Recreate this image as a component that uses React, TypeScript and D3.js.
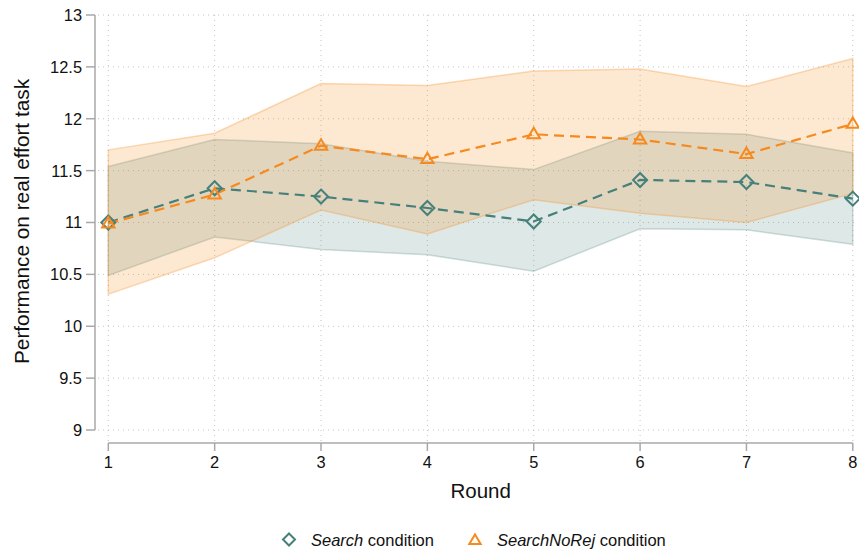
import React from 'react';
import * as d3 from 'd3';

const rounds = [1, 2, 3, 4, 5, 6, 7, 8];
const yTicks = [9, 9.5, 10, 10.5, 11, 11.5, 12, 12.5, 13];

const searchMean = [11.0, 11.33, 11.25, 11.14, 11.01, 11.41, 11.39, 11.23];
const searchHi = [11.54, 11.8, 11.76, 11.59, 11.51, 11.88, 11.85, 11.67];
const searchLo = [10.49, 10.86, 10.74, 10.69, 10.53, 10.94, 10.93, 10.79];

const noRejMean = [10.99, 11.27, 11.74, 11.61, 11.85, 11.8, 11.66, 11.95];
const noRejHi = [11.7, 11.86, 12.34, 12.32, 12.46, 12.48, 12.31, 12.58];
const noRejLo = [10.31, 10.66, 11.12, 10.89, 11.22, 11.09, 11.0, 11.28];

const TEAL = '#46807a';
const ORANGE = '#f68a1e';
const FONT = 'Liberation Sans, Arial, Helvetica, sans-serif';

const W = 859;
const H = 552;

const App = () => {
  const x = d3.scaleLinear().domain([1, 8]).range([108.3, 852.8]);
  const y = d3.scaleLinear().domain([9, 13]).range([430, 15]);

  const band = (lo: number[], hi: number[]) =>
    d3.area<number>()
      .x(d => x(rounds[d]))
      .y0(d => y(lo[d]))
      .y1(d => y(hi[d]))(d3.range(rounds.length)) as string;

  const line = (vals: number[]) =>
    d3.line<number>()
      .x(d => x(rounds[d]))
      .y(d => y(vals[d]))(d3.range(rounds.length)) as string;

  const diamond = (cx: number, cy: number, r = 7) =>
    `M${cx},${cy - r}L${cx + r},${cy}L${cx},${cy + r}L${cx - r},${cy}Z`;
  const triangle = (cx: number, cy: number, r = 6.5) =>
    `M${cx},${cy - r}L${cx + r * 0.95},${cy + r * 0.6}L${cx - r * 0.95},${cy + r * 0.6}Z`;

  const axisY = 443;
  const axisX = 95;

  return (
    <svg width={W} height={H} style={{ position: 'absolute', left: 0, top: 0, fontFamily: FONT }}>
      <rect width={W} height={H} fill="#fff" />

      {/* grid */}
      <g stroke="#c4c4c4" strokeWidth={1} strokeDasharray="1,4">
        {yTicks.map(t => (
          <line key={'gy' + t} x1={axisX + 3} x2={856} y1={y(t)} y2={y(t)} />
        ))}
        {rounds.map(r => (
          <line key={'gx' + r} x1={x(r)} x2={x(r)} y1={y(13)} y2={axisY - 2} />
        ))}
      </g>

      {/* confidence bands */}
      <path d={band(searchLo, searchHi)} fill={TEAL} fillOpacity={0.18} stroke={TEAL} strokeOpacity={0.25} strokeWidth={1.5} />
      <path d={band(noRejLo, noRejHi)} fill={ORANGE} fillOpacity={0.2} stroke={ORANGE} strokeOpacity={0.3} strokeWidth={1.5} />

      {/* mean lines */}
      <path d={line(searchMean)} fill="none" stroke={TEAL} strokeWidth={2.2} strokeDasharray="10,6" />
      <path d={line(noRejMean)} fill="none" stroke={ORANGE} strokeWidth={2.2} strokeDasharray="10,6" />

      {rounds.map((r, i) => (
        <path key={'d' + r} d={diamond(x(r), y(searchMean[i]))} fill="none" stroke={TEAL} strokeWidth={2} />
      ))}
      {rounds.map((r, i) => (
        <path key={'t' + r} d={triangle(x(r), y(noRejMean[i]))} fill="none" stroke={ORANGE} strokeWidth={2} />
      ))}

      {/* y axis */}
      <line x1={axisX} x2={axisX} y1={y(13)} y2={y(9)} stroke="#a8a8a8" strokeWidth={1.5} />
      {yTicks.map(t => (
        <g key={'yt' + t}>
          <line x1={axisX - 9} x2={axisX} y1={y(t)} y2={y(t)} stroke="#a8a8a8" strokeWidth={1.5} />
          <text x={82} y={y(t)} dy="0.36em" textAnchor="end" fontSize={16.4} fill="#111">{t}</text>
        </g>
      ))}
      <text transform={`translate(29,221.5) rotate(-90)`} textAnchor="middle" fontSize={20.8} fill="#111">
        Performance on real effort task
      </text>

      {/* x axis */}
      <line x1={x(1)} x2={x(8)} y1={axisY} y2={axisY} stroke="#a8a8a8" strokeWidth={1.5} />
      {rounds.map(r => (
        <g key={'xt' + r}>
          <line x1={x(r)} x2={x(r)} y1={axisY} y2={axisY + 8} stroke="#a8a8a8" strokeWidth={1.5} />
          <text x={x(r)} y={468} textAnchor="middle" fontSize={16.4} fill="#111">{r}</text>
        </g>
      ))}
      <text x={480.7} y={498} textAnchor="middle" fontSize={20.5} fill="#111">Round</text>

      {/* legend */}
      <path d={diamond(289, 539.5, 6)} fill="none" stroke={TEAL} strokeWidth={2} />
      <text x={311} y={546} fontSize={16.5} fill="#111">
        <tspan fontStyle="italic">Search</tspan> condition
      </text>
      <path d={triangle(475, 540.5, 6)} fill="none" stroke={ORANGE} strokeWidth={2} />
      <text x={497} y={546} fontSize={16.5} fill="#111">
        <tspan fontStyle="italic">SearchNoRej</tspan> condition
      </text>
    </svg>
  );
};

export default App;
